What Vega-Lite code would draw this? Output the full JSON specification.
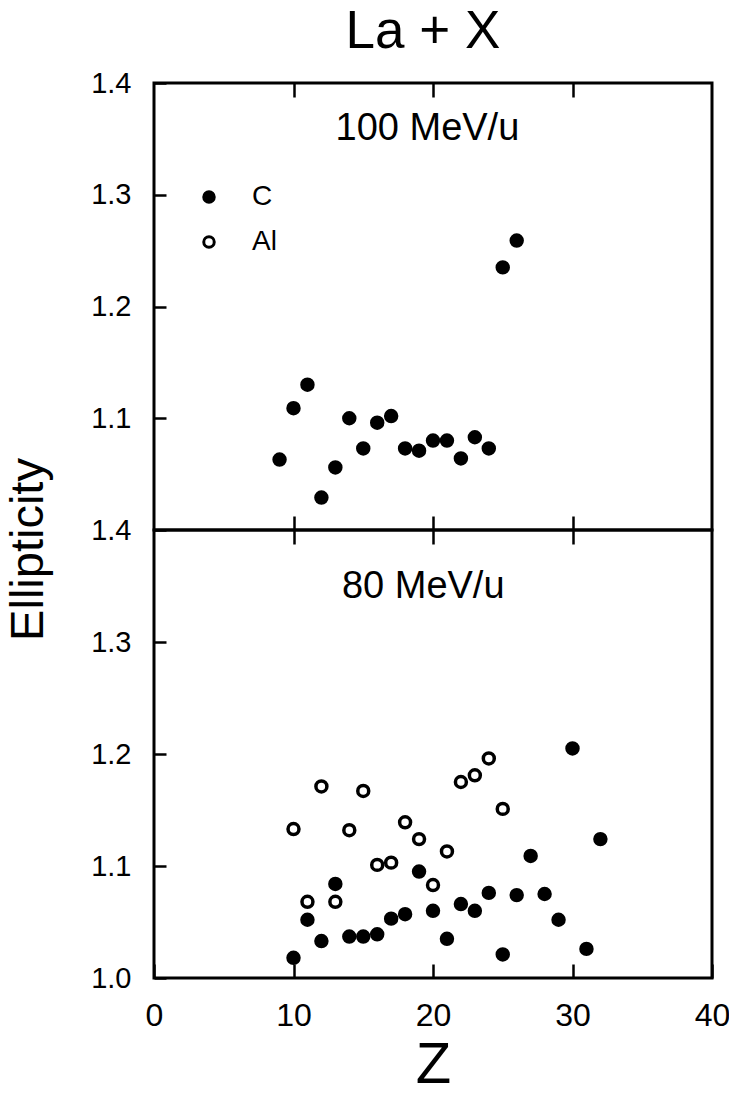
{
  "$schema": "https://vega.github.io/schema/vega-lite/v6.json",
  "padding": {"left": 2, "top": 5, "right": 20, "bottom": 5},
  "background": "white",
  "title": {"text": "La + X", "font": "Liberation Sans", "fontSize": 53, "fontWeight": "normal", "anchor": "middle", "offset": 9, "dx": 56, "color": "black"},
  "config": {
    "view": {"stroke": "black", "strokeWidth": 3},
    "axis": {"domain": false, "grid": false, "tickColor": "black", "tickWidth": 2.5, "labelColor": "black", "titleColor": "black", "labelFlush": false}
  },
  "datasets": {
    "pts": [
      {"E": 100, "target": "C", "Z": 9, "ellipticity": 1.063},
      {"E": 100, "target": "C", "Z": 10, "ellipticity": 1.109},
      {"E": 100, "target": "C", "Z": 11, "ellipticity": 1.130},
      {"E": 100, "target": "C", "Z": 12, "ellipticity": 1.029},
      {"E": 100, "target": "C", "Z": 13, "ellipticity": 1.056},
      {"E": 100, "target": "C", "Z": 14, "ellipticity": 1.100},
      {"E": 100, "target": "C", "Z": 15, "ellipticity": 1.073},
      {"E": 100, "target": "C", "Z": 16, "ellipticity": 1.096},
      {"E": 100, "target": "C", "Z": 17, "ellipticity": 1.102},
      {"E": 100, "target": "C", "Z": 18, "ellipticity": 1.073},
      {"E": 100, "target": "C", "Z": 19, "ellipticity": 1.071},
      {"E": 100, "target": "C", "Z": 20, "ellipticity": 1.080},
      {"E": 100, "target": "C", "Z": 21, "ellipticity": 1.080},
      {"E": 100, "target": "C", "Z": 22, "ellipticity": 1.064},
      {"E": 100, "target": "C", "Z": 23, "ellipticity": 1.083},
      {"E": 100, "target": "C", "Z": 24, "ellipticity": 1.073},
      {"E": 100, "target": "C", "Z": 25, "ellipticity": 1.235},
      {"E": 100, "target": "C", "Z": 26, "ellipticity": 1.259},
      {"E": 80, "target": "C", "Z": 10, "ellipticity": 1.018},
      {"E": 80, "target": "C", "Z": 11, "ellipticity": 1.052},
      {"E": 80, "target": "C", "Z": 12, "ellipticity": 1.033},
      {"E": 80, "target": "C", "Z": 13, "ellipticity": 1.084},
      {"E": 80, "target": "C", "Z": 14, "ellipticity": 1.037},
      {"E": 80, "target": "C", "Z": 15, "ellipticity": 1.037},
      {"E": 80, "target": "C", "Z": 16, "ellipticity": 1.039},
      {"E": 80, "target": "C", "Z": 17, "ellipticity": 1.053},
      {"E": 80, "target": "C", "Z": 18, "ellipticity": 1.057},
      {"E": 80, "target": "C", "Z": 19, "ellipticity": 1.095},
      {"E": 80, "target": "C", "Z": 20, "ellipticity": 1.060},
      {"E": 80, "target": "C", "Z": 21, "ellipticity": 1.035},
      {"E": 80, "target": "C", "Z": 22, "ellipticity": 1.066},
      {"E": 80, "target": "C", "Z": 23, "ellipticity": 1.060},
      {"E": 80, "target": "C", "Z": 24, "ellipticity": 1.076},
      {"E": 80, "target": "C", "Z": 25, "ellipticity": 1.021},
      {"E": 80, "target": "C", "Z": 26, "ellipticity": 1.074},
      {"E": 80, "target": "C", "Z": 27, "ellipticity": 1.109},
      {"E": 80, "target": "C", "Z": 28, "ellipticity": 1.075},
      {"E": 80, "target": "C", "Z": 29, "ellipticity": 1.052},
      {"E": 80, "target": "C", "Z": 30, "ellipticity": 1.205},
      {"E": 80, "target": "C", "Z": 31, "ellipticity": 1.026},
      {"E": 80, "target": "C", "Z": 32, "ellipticity": 1.124},
      {"E": 80, "target": "Al", "Z": 10, "ellipticity": 1.133},
      {"E": 80, "target": "Al", "Z": 11, "ellipticity": 1.068},
      {"E": 80, "target": "Al", "Z": 12, "ellipticity": 1.171},
      {"E": 80, "target": "Al", "Z": 13, "ellipticity": 1.068},
      {"E": 80, "target": "Al", "Z": 14, "ellipticity": 1.132},
      {"E": 80, "target": "Al", "Z": 15, "ellipticity": 1.167},
      {"E": 80, "target": "Al", "Z": 16, "ellipticity": 1.101},
      {"E": 80, "target": "Al", "Z": 17, "ellipticity": 1.103},
      {"E": 80, "target": "Al", "Z": 18, "ellipticity": 1.139},
      {"E": 80, "target": "Al", "Z": 19, "ellipticity": 1.124},
      {"E": 80, "target": "Al", "Z": 20, "ellipticity": 1.083},
      {"E": 80, "target": "Al", "Z": 21, "ellipticity": 1.113},
      {"E": 80, "target": "Al", "Z": 22, "ellipticity": 1.175},
      {"E": 80, "target": "Al", "Z": 23, "ellipticity": 1.181},
      {"E": 80, "target": "Al", "Z": 24, "ellipticity": 1.196},
      {"E": 80, "target": "Al", "Z": 25, "ellipticity": 1.151}
    ]
  },
  "spacing": 0,
  "bounds": "flush",
  "resolve": {"legend": {"fill": "independent"}},
  "vconcat": [
    {
      "width": 558,
      "height": 447,
      "layer": [
        {
          "data": {"name": "pts"},
          "transform": [{"filter": "datum.E == 100"}],
          "mark": {"type": "point", "shape": "circle", "filled": true, "size": 120, "stroke": "black", "strokeWidth": 3.5, "opacity": 1},
          "encoding": {
            "x": {"field": "Z", "type": "quantitative", "scale": {"domain": [0, 40], "nice": false},
                  "axis": {"orient": "bottom", "values": [10, 20, 30], "labels": false, "tickSize": -14, "title": null}},
            "y": {"field": "ellipticity", "type": "quantitative", "scale": {"domain": [1.0, 1.4], "zero": false, "nice": false},
                  "axis": {"values": [1.1, 1.2, 1.3, 1.4], "format": ".1f", "tickSize": -12, "labelFont": "Liberation Sans", "labelFontSize": 29, "labelPadding": 35, "title": null}},
            "fill": {"field": "target", "type": "nominal", "scale": {"domain": ["C", "Al"], "range": ["black", "white"]},
                     "legend": {"orient": "none", "legendX": 41, "legendY": 100, "title": null, "symbolType": "circle", "symbolSize": 110, "symbolStrokeColor": "black", "symbolStrokeWidth": 3, "labelFont": "Liberation Sans", "labelFontSize": 28, "labelColor": "black", "labelOffset": 29, "rowPadding": 17, "padding": 0}}
          }
        },
        {
          "data": {"values": [{"label": "100 MeV/u"}]},
          "mark": {"type": "text", "font": "Liberation Sans", "fontSize": 38, "align": "center", "baseline": "middle", "color": "black"},
          "encoding": {
            "text": {"field": "label"},
            "x": {"datum": 19.6, "type": "quantitative", "axis": {"orient": "top", "values": [10, 20, 30], "labels": false, "tickSize": -14, "title": null}},
            "y": {"datum": 1.359, "type": "quantitative"}
          }
        }
      ]
    },
    {
      "width": 558,
      "height": 448,
      "layer": [
        {
          "data": {"name": "pts"},
          "transform": [{"filter": "datum.E == 80"}],
          "mark": {"type": "point", "shape": "circle", "filled": true, "size": 120, "stroke": "black", "strokeWidth": 3.5, "opacity": 1},
          "encoding": {
            "x": {"field": "Z", "type": "quantitative", "scale": {"domain": [0, 40], "nice": false},
                  "axis": {"orient": "bottom", "values": [0, 10, 20, 30, 40], "format": "d", "tickSize": -14, "labelFont": "Liberation Sans", "labelFontSize": 32, "labelPadding": 36, "title": "Z", "titleFont": "Liberation Sans", "titleFontSize": 58, "titleFontWeight": "normal", "titlePadding": 5}},
            "y": {"field": "ellipticity", "type": "quantitative", "scale": {"domain": [1.0, 1.4], "zero": false, "nice": false},
                  "axis": {"values": [1.0, 1.1, 1.2, 1.3, 1.4], "format": ".1f", "tickSize": -12, "labelFont": "Liberation Sans", "labelFontSize": 29, "labelPadding": 35, "title": "Ellipticity", "titleFont": "Liberation Sans", "titleFontSize": 47, "titleFontWeight": "normal", "titleX": -102, "titleY": 19, "titleAngle": -90, "titleAlign": "center", "titleBaseline": "bottom"}},
            "fill": {"field": "target", "type": "nominal", "scale": {"domain": ["C", "Al"], "range": ["black", "white"]}, "legend": null}
          }
        },
        {
          "data": {"values": [{"label": "80 MeV/u"}]},
          "mark": {"type": "text", "font": "Liberation Sans", "fontSize": 38, "align": "center", "baseline": "middle", "color": "black"},
          "encoding": {
            "text": {"field": "label"},
            "x": {"datum": 19.3, "type": "quantitative", "axis": {"orient": "top", "values": [10, 20, 30], "labels": false, "tickSize": -14, "title": null}},
            "y": {"datum": 1.349, "type": "quantitative"}
          }
        }
      ]
    }
  ]
}
